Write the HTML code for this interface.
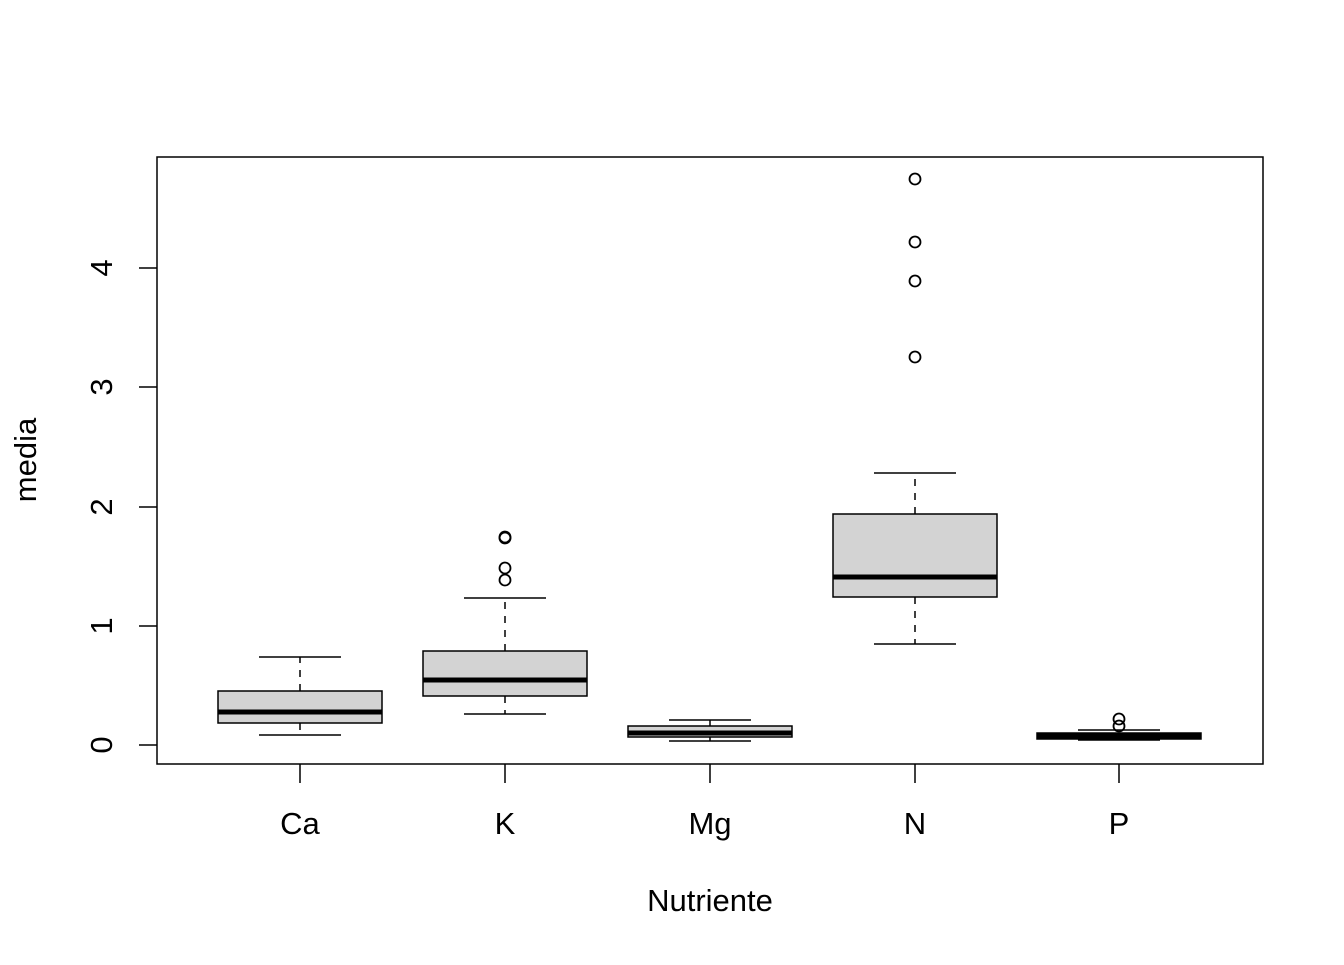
<!DOCTYPE html>
<html><head><style>body{margin:0;background:#fff}</style></head><body>
<svg width="1344" height="960" xmlns="http://www.w3.org/2000/svg" font-family="Liberation Sans, Arial, sans-serif">
<rect x="157" y="157" width="1106" height="607" fill="none" stroke="#000" stroke-width="1.5"/>
<g stroke="#000" stroke-width="1.5">
<line x1="139" y1="745" x2="157" y2="745"/><line x1="139" y1="626" x2="157" y2="626"/>
<line x1="139" y1="507" x2="157" y2="507"/><line x1="139" y1="387" x2="157" y2="387"/>
<line x1="139" y1="268" x2="157" y2="268"/>
<line x1="300" y1="764" x2="300" y2="783"/><line x1="505" y1="764" x2="505" y2="783"/>
<line x1="710" y1="764" x2="710" y2="783"/><line x1="915" y1="764" x2="915" y2="783"/>
<line x1="1119" y1="764" x2="1119" y2="783"/>
</g>
<g font-size="31" text-anchor="middle">
<g transform="rotate(-90)">
<text x="-745" y="112">0</text><text x="-626" y="112">1</text><text x="-507" y="112">2</text>
<text x="-387" y="112">3</text><text x="-268" y="112">4</text>
<text x="-460" y="36">media</text>
</g>
<text x="300" y="834">Ca</text><text x="505" y="834">K</text><text x="710" y="834">Mg</text>
<text x="915" y="834">N</text><text x="1119" y="834">P</text>
<text x="710" y="911">Nutriente</text>
</g>
<g stroke="#000" stroke-width="1.5" fill="none">
<g stroke-dasharray="7,7">
<line x1="300" y1="691" x2="300" y2="657"/><line x1="300" y1="723" x2="300" y2="735"/>
<line x1="505" y1="651" x2="505" y2="598"/><line x1="505" y1="696" x2="505" y2="714"/>
<line x1="710" y1="726" x2="710" y2="720"/><line x1="710" y1="737" x2="710" y2="741"/>
<line x1="915" y1="514" x2="915" y2="473"/><line x1="915" y1="597" x2="915" y2="644"/>
</g>
<line x1="259" y1="657" x2="341" y2="657"/><line x1="259" y1="735" x2="341" y2="735"/>
<line x1="464" y1="598" x2="546" y2="598"/><line x1="464" y1="714" x2="546" y2="714"/>
<line x1="669" y1="720" x2="751" y2="720"/><line x1="669" y1="741" x2="751" y2="741"/>
<line x1="874" y1="473" x2="956" y2="473"/><line x1="874" y1="644" x2="956" y2="644"/>
<line x1="1078" y1="730" x2="1160" y2="730"/><line x1="1078" y1="740" x2="1160" y2="740"/>
<g fill="#d3d3d3">
<rect x="218" y="691" width="164" height="32"/>
<rect x="423" y="651" width="164" height="45"/>
<rect x="628" y="726" width="164" height="11"/>
<rect x="833" y="514" width="164" height="83"/>
<rect x="1037" y="733" width="164" height="6"/>
</g>
<g stroke-width="5">
<line x1="218" y1="712" x2="382" y2="712"/><line x1="423" y1="680" x2="587" y2="680"/>
<line x1="628" y1="733" x2="792" y2="733"/><line x1="833" y1="577" x2="997" y2="577"/>
<line x1="1037" y1="736" x2="1201" y2="736"/>
</g>
<g stroke-width="1.8">
<circle cx="505" cy="537" r="5.5"/><circle cx="505" cy="538" r="5.5"/>
<circle cx="505" cy="568" r="5.5"/><circle cx="505" cy="580" r="5.5"/>
<circle cx="915" cy="179" r="5.5"/><circle cx="915" cy="242" r="5.5"/>
<circle cx="915" cy="281" r="5.5"/><circle cx="915" cy="357" r="5.5"/>
<circle cx="1119" cy="719" r="5.5"/><circle cx="1119" cy="726" r="5.5"/>
</g>
</g>
</svg>
</body></html>
